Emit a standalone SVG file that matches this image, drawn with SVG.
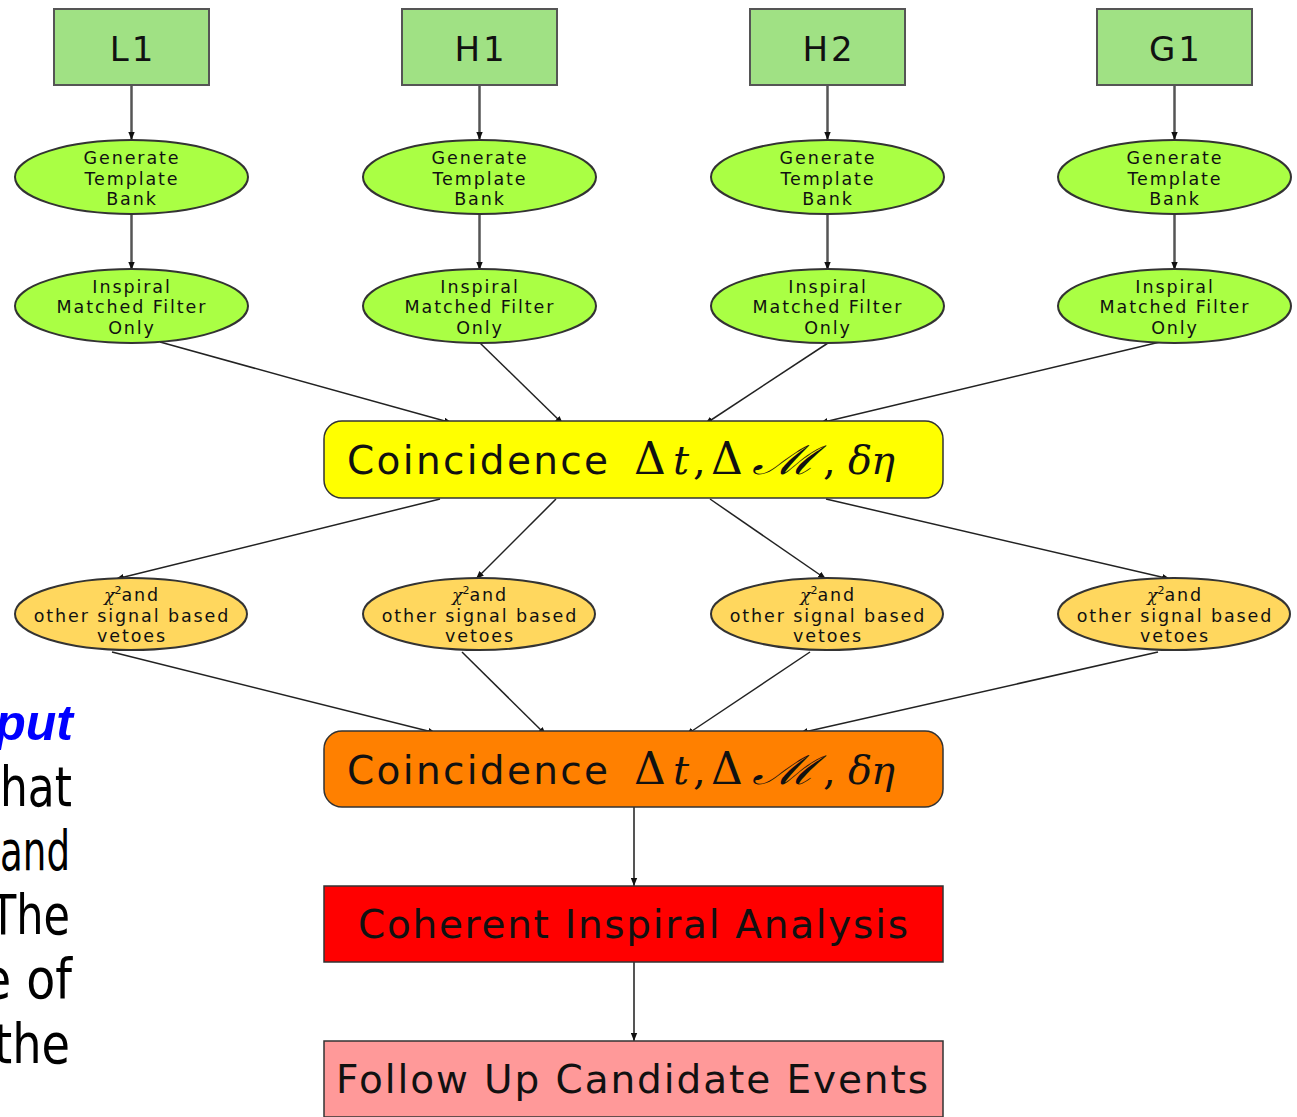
<svg xmlns="http://www.w3.org/2000/svg" width="1297" height="1117" viewBox="0 0 1297 1117">
<defs>
<marker id="ah" viewBox="0 0 10 8" refX="10" refY="4" markerWidth="8" markerHeight="7" orient="auto" markerUnits="userSpaceOnUse">
<path d="M0,0 L10,4 L0,8 z" fill="#111"/>
</marker>
<style>
.det{fill:#a0e184;stroke:#555;stroke-width:2}
.tb{fill:#aaff44;stroke:#333;stroke-width:2}
.chi{fill:#ffd75e;stroke:#333;stroke-width:2}
.lbl{font-family:"DejaVu Sans",sans-serif;fill:#111;text-anchor:middle}
.sm{font-size:17.5px;letter-spacing:1.9px}
.det-t{font-size:34px;letter-spacing:3px}
.big{font-size:39px}
.math{font-family:"DejaVu Serif","Liberation Serif",serif;font-size:40px;fill:#111}
.e{fill:none;stroke:#222;stroke-width:1.5;marker-end:url(#ah)}
.v{fill:none;stroke:#555;stroke-width:2.5;marker-end:url(#ah)}
.side{font-family:"DejaVu Sans",sans-serif;font-size:56px;fill:#000;text-anchor:end}
</style>
</defs>
<rect width="1297" height="1117" fill="#fff"/>

<g id="side-text">
<text x="73" y="740" style="font-family:'Liberation Sans',sans-serif;font-size:50px;font-weight:bold;font-style:italic;fill:#0000ff;text-anchor:end">put</text>
<text class="side" x="72" y="806" textLength="72" lengthAdjust="spacingAndGlyphs">hat</text>
<text class="side" x="70" y="870" textLength="70" lengthAdjust="spacingAndGlyphs">and</text>
<text class="side" x="70" y="934" textLength="80" lengthAdjust="spacingAndGlyphs">The</text>
<text class="side" x="72" y="998" textLength="90" lengthAdjust="spacingAndGlyphs">e of</text>
<text class="side" x="70" y="1063" textLength="76" lengthAdjust="spacingAndGlyphs">the</text>
</g>

<g id="connectors">
<line class="v" x1="131.5" y1="85" x2="131.5" y2="140"/>
<line class="v" x1="479.5" y1="85" x2="479.5" y2="140"/>
<line class="v" x1="827.5" y1="85" x2="827.5" y2="140"/>
<line class="v" x1="1174.5" y1="85" x2="1174.5" y2="140"/>
<line class="v" x1="131.5" y1="214" x2="131.5" y2="270"/>
<line class="v" x1="479.5" y1="214" x2="479.5" y2="270"/>
<line class="v" x1="827.5" y1="214" x2="827.5" y2="270"/>
<line class="v" x1="1174.5" y1="214" x2="1174.5" y2="270"/>
<line class="e" x1="160" y1="342" x2="452" y2="423"/>
<line class="e" x1="480" y1="343" x2="563" y2="424"/>
<line class="e" x1="828" y1="343" x2="705" y2="424"/>
<line class="e" x1="1160" y1="342" x2="820" y2="423"/>
<line class="e" x1="440" y1="499" x2="116" y2="579"/>
<line class="e" x1="556" y1="499" x2="476" y2="579"/>
<line class="e" x1="710" y1="499" x2="826" y2="579"/>
<line class="e" x1="826" y1="499" x2="1170" y2="579"/>
<line class="e" x1="112" y1="652" x2="436" y2="733"/>
<line class="e" x1="462" y1="652" x2="546" y2="735"/>
<line class="e" x1="810" y1="652" x2="686" y2="735"/>
<line class="e" x1="1158" y1="652" x2="800" y2="733"/>
<line class="v" x1="634" y1="807" x2="634" y2="886" style="stroke-width:2"/>
<line class="v" x1="634" y1="962" x2="634" y2="1041" style="stroke-width:2"/>
</g>

<g id="L1"><rect class="det" x="54" y="9" width="155" height="76"/><text class="lbl det-t" x="133" y="61">L1</text></g>
<g id="H1"><rect class="det" x="402" y="9" width="155" height="76"/><text class="lbl det-t" x="481" y="61">H1</text></g>
<g id="H2"><rect class="det" x="750" y="9" width="155" height="76"/><text class="lbl det-t" x="829" y="61">H2</text></g>
<g id="G1"><rect class="det" x="1097" y="9" width="155" height="76"/><text class="lbl det-t" x="1176" y="61">G1</text></g>

<g id="tb-L1"><ellipse class="tb" cx="131.5" cy="177" rx="116.5" ry="37"/><text class="lbl sm" x="132" y="164">Generate</text><text class="lbl sm" x="132" y="185">Template</text><text class="lbl sm" x="132" y="205">Bank</text></g>
<g id="tb-H1"><ellipse class="tb" cx="479.5" cy="177" rx="116.5" ry="37"/><text class="lbl sm" x="480" y="164">Generate</text><text class="lbl sm" x="480" y="185">Template</text><text class="lbl sm" x="480" y="205">Bank</text></g>
<g id="tb-H2"><ellipse class="tb" cx="827.5" cy="177" rx="116.5" ry="37"/><text class="lbl sm" x="828" y="164">Generate</text><text class="lbl sm" x="828" y="185">Template</text><text class="lbl sm" x="828" y="205">Bank</text></g>
<g id="tb-G1"><ellipse class="tb" cx="1174.5" cy="177" rx="116.5" ry="37"/><text class="lbl sm" x="1175" y="164">Generate</text><text class="lbl sm" x="1175" y="185">Template</text><text class="lbl sm" x="1175" y="205">Bank</text></g>

<g id="mf-L1"><ellipse class="tb" cx="131.5" cy="306" rx="116.5" ry="37"/><text class="lbl sm" x="132" y="293">Inspiral</text><text class="lbl sm" x="132" y="313">Matched Filter</text><text class="lbl sm" x="132" y="334">Only</text></g>
<g id="mf-H1"><ellipse class="tb" cx="479.5" cy="306" rx="116.5" ry="37"/><text class="lbl sm" x="480" y="293">Inspiral</text><text class="lbl sm" x="480" y="313">Matched Filter</text><text class="lbl sm" x="480" y="334">Only</text></g>
<g id="mf-H2"><ellipse class="tb" cx="827.5" cy="306" rx="116.5" ry="37"/><text class="lbl sm" x="828" y="293">Inspiral</text><text class="lbl sm" x="828" y="313">Matched Filter</text><text class="lbl sm" x="828" y="334">Only</text></g>
<g id="mf-G1"><ellipse class="tb" cx="1174.5" cy="306" rx="116.5" ry="37"/><text class="lbl sm" x="1175" y="293">Inspiral</text><text class="lbl sm" x="1175" y="313">Matched Filter</text><text class="lbl sm" x="1175" y="334">Only</text></g>

<g id="coinc1">
<rect x="324" y="421" width="619" height="77" rx="18" ry="18" fill="#ffff00" stroke="#333" stroke-width="1.5"/>
<text class="lbl big" x="347" y="474" style="text-anchor:start" textLength="261" lengthAdjust="spacing">Coincidence</text>
<text class="math" y="474"><tspan x="634" font-size="44">Δ</tspan><tspan x="673" font-style="italic">t</tspan><tspan x="693">,</tspan><tspan x="711" font-size="44">Δ</tspan><tspan x="823">,</tspan><tspan x="848" font-style="italic">δ</tspan><tspan x="871" font-style="italic">η</tspan></text>
<text class="math" transform="translate(752,474) scale(1.4,1)" x="0" y="0" font-style="italic">ℳ</text>
</g>

<g id="chi-1"><ellipse class="chi" cx="131" cy="614" rx="116" ry="36"/><text class="lbl sm" x="132" y="601"><tspan style="font-family:'DejaVu Serif',serif;font-style:italic;letter-spacing:0">χ</tspan><tspan dy="-7" style="font-size:11px;letter-spacing:0">2</tspan><tspan dy="7">and</tspan></text><text class="lbl sm" x="132" y="622">other signal based</text><text class="lbl sm" x="132" y="642">vetoes</text></g>
<g id="chi-2"><ellipse class="chi" cx="479" cy="614" rx="116" ry="36"/><text class="lbl sm" x="480" y="601"><tspan style="font-family:'DejaVu Serif',serif;font-style:italic;letter-spacing:0">χ</tspan><tspan dy="-7" style="font-size:11px;letter-spacing:0">2</tspan><tspan dy="7">and</tspan></text><text class="lbl sm" x="480" y="622">other signal based</text><text class="lbl sm" x="480" y="642">vetoes</text></g>
<g id="chi-3"><ellipse class="chi" cx="827" cy="614" rx="116" ry="36"/><text class="lbl sm" x="828" y="601"><tspan style="font-family:'DejaVu Serif',serif;font-style:italic;letter-spacing:0">χ</tspan><tspan dy="-7" style="font-size:11px;letter-spacing:0">2</tspan><tspan dy="7">and</tspan></text><text class="lbl sm" x="828" y="622">other signal based</text><text class="lbl sm" x="828" y="642">vetoes</text></g>
<g id="chi-4"><ellipse class="chi" cx="1174" cy="614" rx="116" ry="36"/><text class="lbl sm" x="1175" y="601"><tspan style="font-family:'DejaVu Serif',serif;font-style:italic;letter-spacing:0">χ</tspan><tspan dy="-7" style="font-size:11px;letter-spacing:0">2</tspan><tspan dy="7">and</tspan></text><text class="lbl sm" x="1175" y="622">other signal based</text><text class="lbl sm" x="1175" y="642">vetoes</text></g>

<g id="coinc2">
<rect x="324" y="731" width="619" height="76" rx="18" ry="18" fill="#ff8000" stroke="#333" stroke-width="1.5"/>
<text class="lbl big" x="347" y="784" style="text-anchor:start" textLength="261" lengthAdjust="spacing">Coincidence</text>
<text class="math" y="784"><tspan x="634" font-size="44">Δ</tspan><tspan x="673" font-style="italic">t</tspan><tspan x="693">,</tspan><tspan x="711" font-size="44">Δ</tspan><tspan x="823">,</tspan><tspan x="848" font-style="italic">δ</tspan><tspan x="871" font-style="italic">η</tspan></text>
<text class="math" transform="translate(752,784) scale(1.4,1)" x="0" y="0" font-style="italic">ℳ</text>
</g>

<g id="coherent">
<rect x="324" y="886" width="619" height="76" fill="#ff0000" stroke="#333" stroke-width="1.5"/>
<text class="lbl big" x="633" y="938" textLength="550" lengthAdjust="spacing">Coherent Inspiral Analysis</text>
</g>

<g id="followup">
<rect x="324" y="1041" width="619" height="76" fill="#ff9999" stroke="#333" stroke-width="1.5"/>
<text class="lbl big" x="632" y="1093" textLength="592" lengthAdjust="spacing">Follow Up Candidate Events</text>
</g>
</svg>
